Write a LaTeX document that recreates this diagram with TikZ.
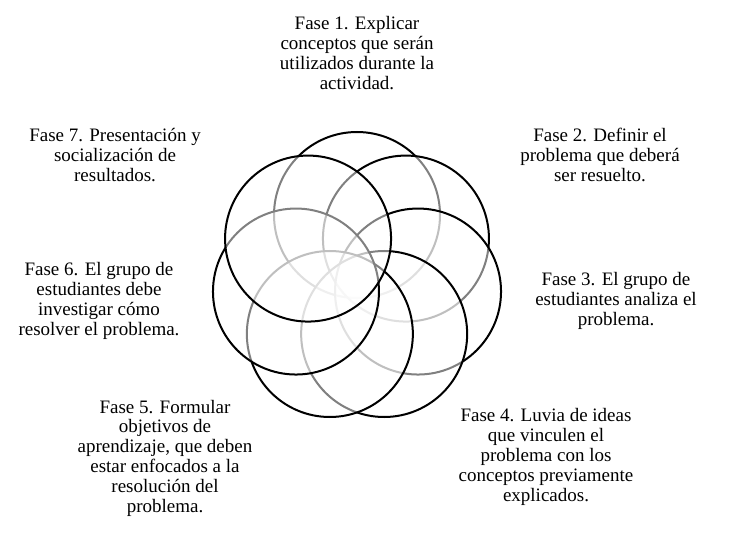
\documentclass[tikz,border=0pt]{standalone}
\usepackage{fontspec}
\setmainfont{Liberation Serif}
\usetikzlibrary{calc}
\begin{document}
\begin{tikzpicture}[x=1pt,y=-1pt,
  ring/.style={circle,draw=black,line width=2pt,fill=white,fill opacity=0.5,
    minimum size=166pt,inner sep=0pt,outer sep=0pt},
  lbl/.style={align=center,inner sep=0pt,text=black,
    font=\fontsize{19}{19.8}\selectfont}]
\useasboundingbox (0,0) rectangle (733,537);
\coordinate (c) at (357,277.6);
% circles, drawn clockwise from top, each over the previous ones
\foreach \i/\a in {1/90,2/38.57,3/-12.86,4/-64.29,5/-115.71,6/-167.14,7/141.43}{
  \node[ring] (r\i) at ($(c)+(\a:62.6pt)$) {};
}
\node[lbl] (t1) at (357,53) {Fase 1. Explicar\\conceptos que serán\\utilizados durante la\\actividad.};
\node[lbl] (t2) at (600,155) {Fase 2. Definir el\\problema que deberá\\ser resuelto.};
\node[lbl] (t3) at (616,301) {Fase 3. El grupo de\\estudiantes analiza el\\problema.};
\node[lbl] (t4) at (546,457) {Fase 4. Luvia de ideas\\que vinculen el\\problema con los\\conceptos previamente\\explicados.};
\node[lbl] (t5) at (165,458) {Fase 5. Formular\\objetivos de\\aprendizaje, que deben\\estar enfocados a la\\resolución del\\problema.};
\node[lbl] (t6) at (99,301) {Fase 6. El grupo de\\estudiantes debe\\investigar cómo\\resolver el problema.};
\node[lbl] (t7) at (115,155) {Fase 7. Presentación y\\socialización de\\resultados.};
\end{tikzpicture}
\end{document}
